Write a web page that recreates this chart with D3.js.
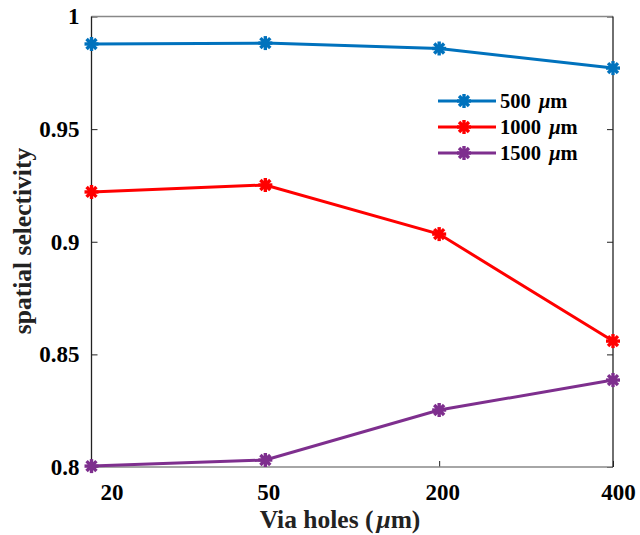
<!DOCTYPE html>
<html>
<head>
<meta charset="utf-8">
<script src="https://cdn.jsdelivr.net/npm/d3@7"></script>
<style>
  body { margin: 0; background: #fff; }
  text { font-family: "Liberation Serif", "Times New Roman", serif; font-weight: bold; }
</style>
</head>
<body>
<svg id="root"></svg>
<script>
const holes = ["20", "50", "200", "400"]
const yTicks = [0.8, 0.85, 0.9, 0.95, 1]
const s500 = [0.9878, 0.9882, 0.9858, 0.9771]
const s1000 = [0.9221, 0.9252, 0.9034, 0.8559]
const s1500 = [0.8004, 0.8031, 0.8253, 0.8386]
const seriesNames = ["500", "1000", "1500"]
const seriesColors = ["#0072BD", "#FF0000", "#7E2F8E"]

const margin = { top: 16.5, right: 27, bottom: 68, left: 91.5 },
  width = 640 - margin.left - margin.right,
  height = 535 - margin.top - margin.bottom

const svg = d3.select("#root").attr("width", 640).attr("height", 535)
  .append("g")
  .attr("transform", `translate(${margin.left},${margin.top})`)

const x = d3.scalePoint(holes, [0, width])
const y = d3.scaleLinear([0.8, 1], [height, 0])

// axes, ticks inward
const xAxis = svg.append("g")
  .attr("transform", `translate(0,${height})`)
  .call(d3.axisBottom(x).tickSize(-6).tickPadding(17))
xAxis.select(".domain").remove()
xAxis.selectAll("line").attr("stroke", "#222")
xAxis.selectAll("text").attr("font-size", 23).attr("fill", "#000")
  .attr("font-family", "Liberation Serif").attr("font-weight", "bold")
  .attr("dx", (d, i) => i == 0 ? 20 : (i == 3 ? 5 : 3))

const yAxis = svg.append("g")
  .call(d3.axisLeft(y).tickValues(yTicks).tickFormat(d => d == 1 ? "1" : String(d)).tickSize(-6).tickPadding(12))
yAxis.select(".domain").remove()
yAxis.selectAll("line").attr("stroke", "#222")
yAxis.selectAll("text").attr("font-size", 23).attr("fill", "#000")
  .attr("font-family", "Liberation Serif").attr("font-weight", "bold")

// right ticks
svg.append("g").attr("transform", `translate(${width},0)`)
  .call(d3.axisRight(y).tickValues(yTicks).tickFormat("").tickSize(-6))
  .call(g => g.select(".domain").remove())
  .selectAll("line").attr("stroke", "#222")

// box
svg.append("line").attr("x1", 0).attr("x2", width).attr("y1", 0).attr("y2", 0)
  .attr("stroke", "#888").attr("stroke-width", 1.5)
svg.append("line").attr("x1", 0).attr("x2", width).attr("y1", height).attr("y2", height)
  .attr("stroke", "#888").attr("stroke-width", 1.5)
svg.append("line").attr("x1", 0).attr("x2", 0).attr("y1", 0).attr("y2", height)
  .attr("stroke", "#222").attr("stroke-width", 1.3)
svg.append("line").attr("x1", width).attr("x2", width).attr("y1", 0).attr("y2", height)
  .attr("stroke", "#222").attr("stroke-width", 1.3)

// asterisk marker
function star(g, cx, cy, color, r) {
  for (let k = 0; k < 4; k++) {
    const a = k * Math.PI / 4
    g.append("line")
      .attr("x1", cx - r * Math.sin(a)).attr("y1", cy - r * Math.cos(a))
      .attr("x2", cx + r * Math.sin(a)).attr("y2", cy + r * Math.cos(a))
      .attr("stroke", color).attr("stroke-width", 3.4)
  }
  g.append("circle").attr("cx", cx).attr("cy", cy).attr("r", 4).attr("fill", color)
}

const line = d3.line()
  .x((d, i) => x(holes[i]))
  .y(d => y(d))

const allSeries = [s500, s1000, s1500]
allSeries.forEach((s, j) => {
  svg.append("path")
    .datum(s)
    .attr("fill", "none")
    .attr("stroke", seriesColors[j])
    .attr("stroke-width", 3)
    .attr("d", line)
  const g = svg.append("g")
  s.forEach((v, i) => star(g, x(holes[i]), y(v), seriesColors[j], 7))
})

// legend
const legend = svg.append("g").attr("transform", `translate(${438 - margin.left},${101 - margin.top})`)
seriesNames.forEach((name, j) => {
  const row = legend.append("g").attr("transform", `translate(0,${j * 26})`)
  row.append("line").attr("x1", 0).attr("x2", 58).attr("y1", 0).attr("y2", 0)
    .attr("stroke", seriesColors[j]).attr("stroke-width", 3)
  star(row, 26, 0, seriesColors[j], 7)
  const t = row.append("text").attr("x", 62).attr("y", 7).attr("font-size", 20.5).attr("fill", "#000")
  t.append("tspan").text(name + " ")
  t.append("tspan").attr("dx", 3).attr("font-style", "italic").text("μ")
  t.append("tspan").text("m")
})

// axis labels
const xl = svg.append("text")
  .attr("text-anchor", "middle")
  .attr("x", 340 - margin.left)
  .attr("y", height + 61)
  .attr("font-size", 25.5)
  .attr("fill", "#222")
xl.append("tspan").text("Via holes (")
xl.append("tspan").attr("dx", 3).attr("font-style", "italic").text("μ")
xl.append("tspan").text("m)")

svg.append("text")
  .attr("text-anchor", "middle")
  .attr("transform", `translate(${-61},${241 - margin.top}) rotate(-90)`)
  .attr("font-size", 25.5)
  .attr("fill", "#222")
  .text("spatial selectivity")
</script>
</body>
</html>
